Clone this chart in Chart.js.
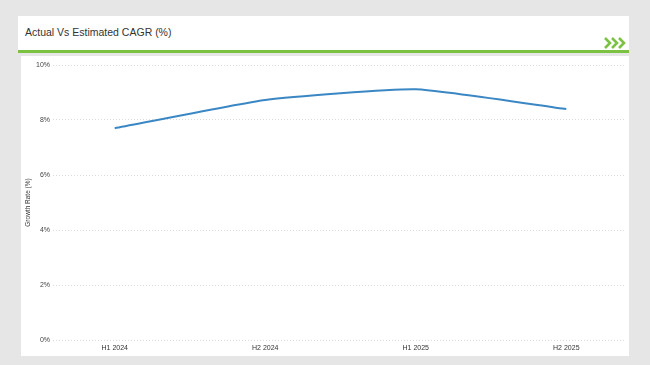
<!DOCTYPE html>
<html lang="en">
<head>
<meta charset="UTF-8" />
<title>Actual Vs Estimated CAGR (%)</title>
<script src="https://cdn.jsdelivr.net/npm/chart.js"></script>
<style>
  html, body { margin: 0; padding: 0; }
  body { width: 650px; height: 365px; background: #e6e6e6; position: relative; overflow: hidden;
         font-family: "Liberation Sans", Arial, sans-serif; }
  .head { position: absolute; left: 18px; top: 16px; width: 611px; height: 35px; background: #fff; }
  .head h1 { margin: 0; position: absolute; left: 7px; top: 10px; font-size: 10.5px; font-weight: normal; color: #333; }
  .head svg { position: absolute; right: 3px; top: 21px; }
  .bar { position: absolute; left: 18px; top: 50px; width: 611px; height: 3px; background: #7cc242; }
  .panel { position: absolute; left: 21px; top: 56px; width: 608px; height: 300px; background: #fff; }
</style>
</head>
<body>

<div class="head">
  <h1>Actual Vs Estimated CAGR (%)</h1>
  <svg width="22" height="12" viewBox="0 0 22 12">
    <polyline points="1,1 6,6 1,11" fill="none" stroke="#7cc242" stroke-width="2.6" />
    <polyline points="8,1 13,6 8,11" fill="none" stroke="#7cc242" stroke-width="2.6" />
    <polyline points="15,1 20,6 15,11" fill="none" stroke="#7cc242" stroke-width="2.6" />
  </svg>
</div>
<div class="bar"></div>
<div class="panel">
  <canvas id="cagrChart" width="608" height="300"></canvas>
</div>

<script>
  // data
  const periods = ["H1 2024", "H2 2024", "H1 2025", "H2 2025"];
  const growthRate = [7.7, 8.73, 9.12, 8.4];
  const yTicks = [0, 2, 4, 6, 8, 10];

  const points = growthRate.map((v, i) => ({ x: i, y: v }));

  const ctx = document.getElementById("cagrChart").getContext("2d");
  new Chart(ctx, {
    type: "line",
    data: {
      datasets: [{
        label: "Growth Rate (%)",
        data: points,
        borderColor: "#3b87c4",
        borderWidth: 2,
        tension: 0.15,
        pointRadius: 0,
        fill: false
      }]
    },
    options: {
      responsive: false,
      animation: false,
      layout: { padding: { left: 3, right: 4, top: 9, bottom: 0 } },
      plugins: {
        legend: { display: false },
        tooltip: { enabled: false }
      },
      scales: {
        x: {
          type: "linear",
          min: -0.41,
          max: 3.39,
          afterBuildTicks: scale => { scale.ticks = periods.map((p, i) => ({ value: i })); },
          afterFit: scale => { scale.height = 16; },
          grid: { display: false, drawTicks: false },
          border: { display: false },
          ticks: {
            callback: v => periods[v] || "",
            color: "#333",
            font: { family: "Liberation Sans", size: 7 },
            padding: 4,
            maxRotation: 0
          }
        },
        y: {
          min: 0,
          max: 10,
          afterBuildTicks: scale => { scale.ticks = yTicks.map(v => ({ value: v })); },
          afterFit: scale => { scale.width = 29; },
          border: { display: false, dash: [1, 2] },
          grid: { color: "#dcdcdc", lineWidth: 1, drawTicks: false },
          ticks: {
            callback: v => v + "%",
            color: "#444",
            font: { family: "Liberation Sans", size: 7 },
            padding: 3
          },
          title: {
            display: true,
            text: "Growth Rate (%)",
            color: "#333",
            font: { family: "Liberation Sans", size: 6.5 },
            padding: { top: 0, bottom: 0 }
          }
        }
      }
    }
  });
</script>
</body>
</html>
